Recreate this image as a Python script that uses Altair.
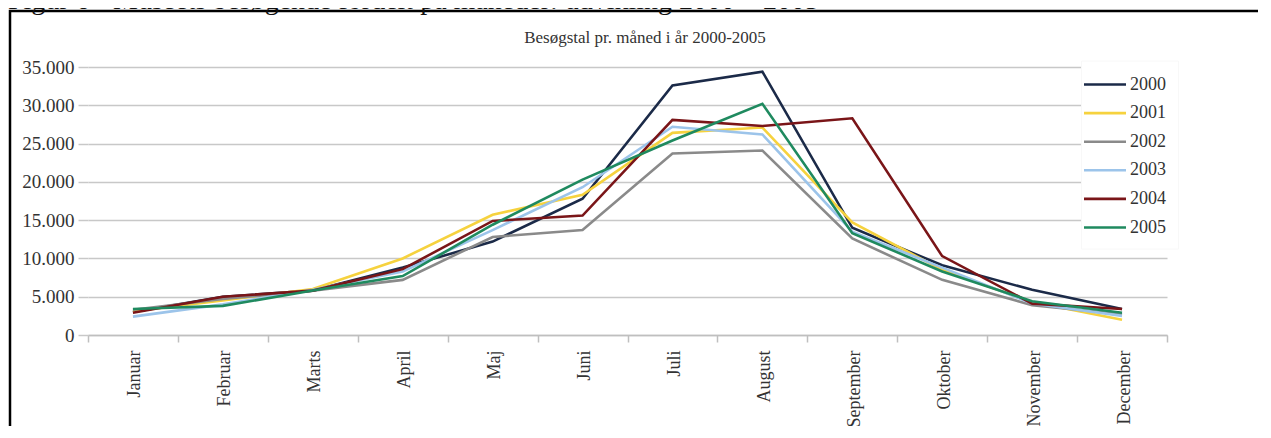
import altair as alt
import pandas as pd

months = ["Januar", "Februar", "Marts", "April", "Maj", "Juni", "Juli",
          "August", "September", "Oktober", "November", "December"]
years = ["2000", "2001", "2002", "2003", "2004", "2005"]
colors = ["#1b2a48", "#f6d23e", "#8a8a8a", "#9cc4ea", "#7a1518", "#1f8a5f"]

v2000 = [3000, 5000, 5800, 8800, 12200, 17800, 32600, 34400, 14000, 9100, 5900, 3400]
v2001 = [3100, 4500, 6000, 10000, 15700, 18300, 26400, 27100, 14700, 8500, 4300, 2000]
v2002 = [3300, 4700, 5800, 7200, 12800, 13700, 23700, 24100, 12600, 7200, 3900, 2700]
v2003 = [2400, 4000, 5900, 8300, 13700, 19300, 27200, 26200, 13500, 8800, 4100, 2500]
v2004 = [2900, 5000, 5800, 8600, 14900, 15600, 28100, 27300, 28300, 10300, 4100, 3400]
v2005 = [3400, 3800, 5800, 7700, 14400, 20300, 25400, 30200, 13300, 8300, 4400, 2900]

series = dict(zip(years, [v2000, v2001, v2002, v2003, v2004, v2005]))
rows = []
for y, vals in series.items():
    for m, v in zip(months, vals):
        rows.append({"month": m, "year": y, "value": v})
df = pd.DataFrame(rows)

caption = "Figur 6 - Museets besøgende fordelt på måneder: udvikling 2000 – 2005"
title = "Besøgstal pr. måned i år 2000-2005"
yticks = [0, 5000, 10000, 15000, 20000, 25000, 30000, 35000]

FONT = "Liberation Serif"
W, H = 1079, 268

one = alt.Data(values=[{"a": 1}])

frame = alt.Chart(one).mark_rect(fill=None, stroke="black", strokeWidth=2.5).encode(
    x=alt.value(-78), x2=alt.value(1200), y=alt.value(-56), y2=alt.value(400)
)

cap = alt.Chart(alt.Data(values=[{"t": caption}])).mark_text(
    font=FONT, fontSize=28, align="left", baseline="alphabetic", color="#111111"
).encode(text="t:N", x=alt.value(-80), y=alt.value(-58))

ttl = alt.Chart(alt.Data(values=[{"t": title}])).mark_text(
    font=FONT, fontSize=17, align="center", baseline="alphabetic", color="#333333"
).encode(text="t:N", x=alt.value(557), y=alt.value(-24))

lines = alt.Chart(df).mark_line(strokeWidth=2.6).encode(
    x=alt.X("month:N", sort=months,
            scale=alt.Scale(type="band", paddingInner=0, paddingOuter=0),
            axis=alt.Axis(title=None, labelAngle=270, labelFont=FONT, labelFontSize=18,
                          labelColor="#333333", labelPadding=8, labelOffset=2,
                          tickBand="extent",
                          tickSize=7, tickColor="#bfbfbf", tickWidth=1.5,
                          domainColor="#bfbfbf", domainWidth=1.5, grid=False)),
    y=alt.Y("value:Q", scale=alt.Scale(domain=[0, 35000], nice=False),
            axis=alt.Axis(title=None, values=yticks, labelFont=FONT, labelFontSize=19,
                          labelColor="#333333", labelPadding=4, tickSize=10,
                          tickColor="#c8c8c8", tickWidth=1.5, domain=False,
                          grid=True, gridColor="#c8c8c8", gridWidth=1.5,
                          labelExpr="replace(format(datum.value, ','), ',', '.')")),
    color=alt.Color("year:N", scale=alt.Scale(domain=years, range=colors),
                    legend=alt.Legend(title=None, orient="none", legendX=993, legendY=-6.5,
                                      symbolType="M-2,0H2", symbolSize=441,
                                      symbolStrokeWidth=2.6, labelFont=FONT,
                                      labelFontSize=18, labelColor="#333333",
                                      labelOffset=13, padding=12, rowPadding=7.6,
                                      fillColor="white", strokeColor="#f8f8f8")),
    detail="year:N",
)

chart = alt.layer(frame, cap, ttl, lines).properties(
    width=W, height=H,
    autosize=alt.AutoSizeParams(type="none"),
    padding={"left": 80, "top": 59, "right": 91, "bottom": 91},
    background="white",
).configure_view(stroke=None)

chart.save("out.html", embed_options={"renderer": "svg", "actions": False})
